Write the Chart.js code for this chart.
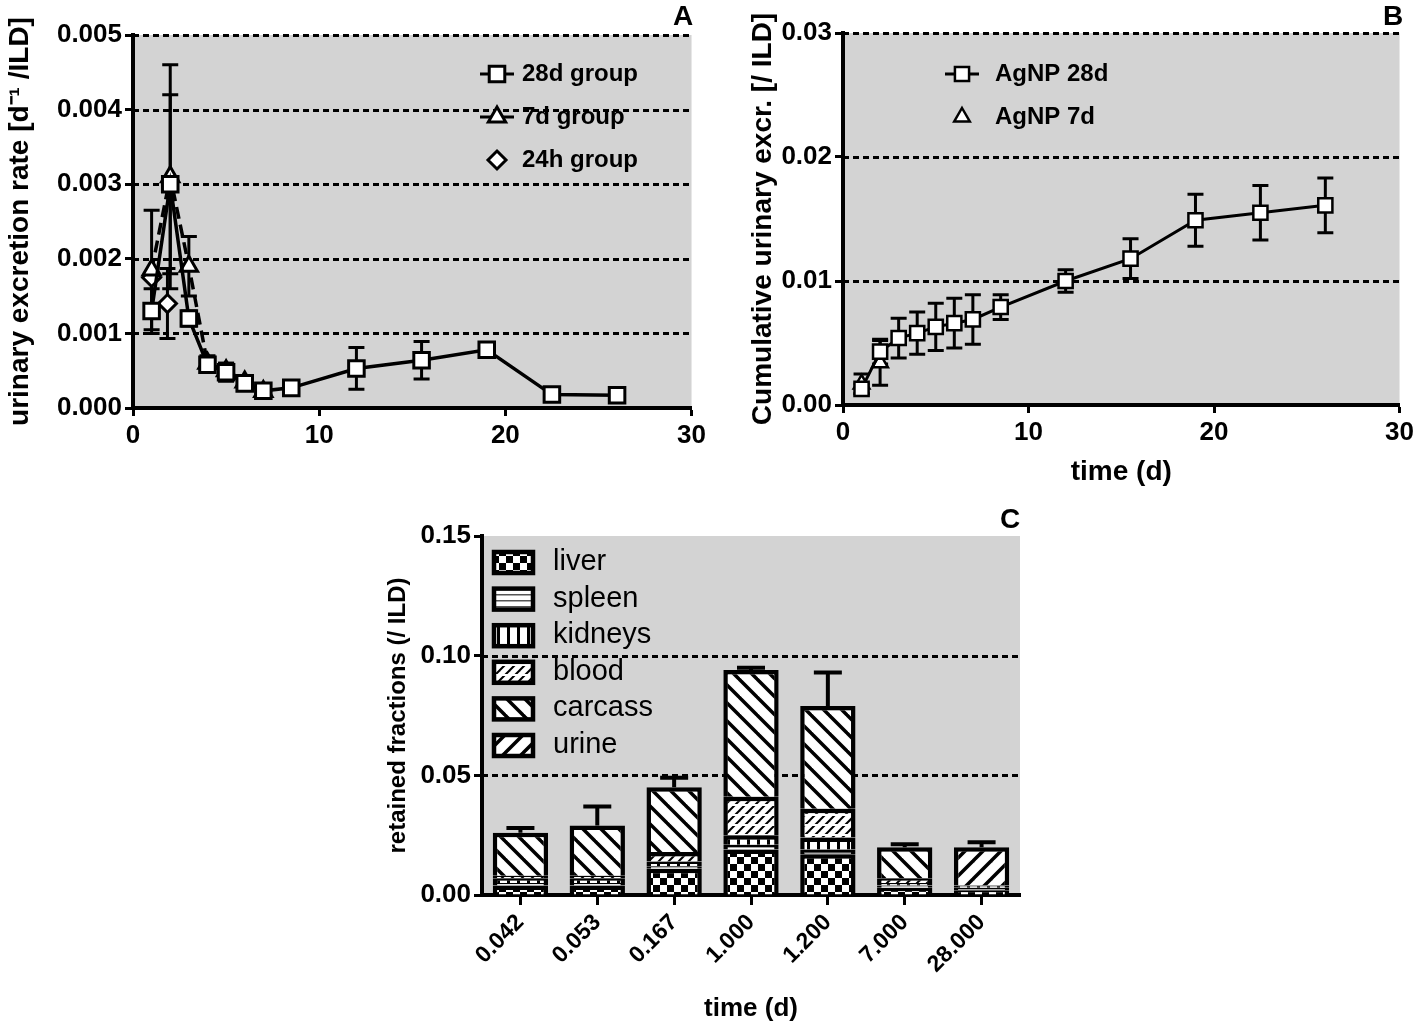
<!DOCTYPE html>
<html>
<head>
<meta charset="utf-8">
<script src="https://cdn.jsdelivr.net/npm/chart.js@4.4.1/dist/chart.umd.min.js"></script>
<style>
  html, body { margin: 0; padding: 0; background: #fff; overflow: hidden; }
  .panel { position: absolute; }
</style>
</head>
<body>
<div class="panel" style="left:0;top:0"><canvas id="chartA" width="710" height="445"></canvas></div>
<div class="panel" style="left:710px;top:0"><canvas id="chartB" width="708" height="500"></canvas></div>
<div class="panel" style="left:380px;top:500px"><canvas id="chartC" width="660" height="524"></canvas></div>
<script>
// ---- panel A: urinary excretion rate
var daysA28 = [1, 2, 3, 4, 5, 6, 7, 8.5, 12, 15.5, 19, 22.5, 26];
var rateA28 = [0.0013, 0.0030, 0.0012, 0.00058, 0.00048, 0.00033, 0.00023, 0.00027, 0.00053, 0.00064, 0.00078, 0.00018, 0.00017];
var errA28  = [0.0003, 0.0012, 0.0001, 0.0001, 0.00012, 0.00005, 0.00004, 0.00003, 0.00028, 0.00025, 0.00008, 0.00003, 0.00003];
var daysA7  = [1, 2, 3, 4, 5, 6, 7];
var rateA7  = [0.00185, 0.0031, 0.0019, 0.0006, 0.0005, 0.00035, 0.00022];
var errA7   = [0.0008, 0.0015, 0.0004, 0.0001, 0.0001, 0.00005, 0.00004];
var daysA24 = [1, 1.85];
var rateA24 = [0.00175, 0.0014];
var errA24  = [0, 0.00047];

// ---- panel B: cumulative urinary excretion
var daysB28 = [1, 2, 3, 4, 5, 6, 7, 8.5, 12, 15.5, 19, 22.5, 26];
var cumB28  = [0.0013, 0.0043, 0.0054, 0.0058, 0.0063, 0.0066, 0.0069, 0.0079, 0.0100, 0.0118, 0.0149, 0.0155, 0.0161];
var errB28  = [0.0004, 0.001, 0.0016, 0.0017, 0.0019, 0.002, 0.002, 0.001, 0.0009, 0.0016, 0.0021, 0.0022, 0.0022];
var daysB7  = [1, 2];
var cumB7   = [0.0017, 0.0034];
var errB7   = [0.0008, 0.0018];

// ---- panel C: retained fractions
var timeC    = ['0.042', '0.053', '0.167', '1.000', '1.200', '7.000', '28.000'];
var liverC   = [0.004, 0.004, 0.011, 0.019, 0.017, 0.003, 0.002];
var spleenC  = [0.001, 0.001, 0.001, 0.002, 0.002, 0.001, 0.001];
var kidneysC = [0.002, 0.002, 0.002, 0.004, 0.005, 0.001, 0.001];
var bloodC   = [0.001, 0.001, 0.004, 0.016, 0.012, 0.002, 0];
var carcassC = [0.018, 0.021, 0.027, 0.053, 0.043, 0.013, 0];
var urineC   = [0, 0, 0, 0, 0, 0, 0.016];
var errC     = [0.002, 0.008, 0.004, 0.001, 0.014, 0.0012, 0.002];

Chart.defaults.font.family = "'Liberation Sans', Arial, sans-serif";
Chart.defaults.color = '#000';

var PLOT_BG = '#d3d3d3';

function xy(xs, ys) {
  return xs.map(function (x, i) { return { x: x, y: ys[i] }; });
}

// fill patterns for the organ bars
function tile(size, draw) {
  var c = document.createElement('canvas');
  c.width = size; c.height = size;
  var g = c.getContext('2d');
  g.fillStyle = '#fff';
  g.fillRect(0, 0, size, size);
  g.fillStyle = '#000';
  g.strokeStyle = '#000';
  draw(g, size);
  return g.createPattern(c, 'repeat');
}
function hatch(size, lw, dir) {
  return tile(size, function (g, s) {
    g.lineWidth = lw;
    [-s, 0, s].forEach(function (off) {
      g.beginPath();
      if (dir > 0) { g.moveTo(off - 1, -1); g.lineTo(off + s + 1, s + 1); }
      else { g.moveTo(off - 1, s + 1); g.lineTo(off + s + 1, -1); }
      g.stroke();
    });
  });
}
var patLiver = tile(14, function (g, s) { g.fillRect(0, 0, s / 2, s / 2); g.fillRect(s / 2, s / 2, s / 2, s / 2); });
var patSpleen = tile(6, function (g, s) { g.fillStyle = '#555'; g.fillRect(0, s - 2, s, 1.5); });
var patKidneys = tile(10, function (g, s) { g.fillRect(s - 3, 0, 3, s); });
var patBlood = tile(10, function (g, s) {
  g.lineWidth = 2;
  [-s, 0, s].forEach(function (off) {
    g.beginPath(); g.moveTo(off - 1, s + 1); g.lineTo(off + s + 1, -1); g.stroke();
  });
  g.fillStyle = '#fff';
  g.fillRect(0, s / 2 - 1, s, 2);
});
var patCarcass = hatch(18, 3.5, 1);
var patUrine = hatch(18, 3.5, -1);

function drawMarker(ctx, style, x, y, r, lw) {
  ctx.save();
  ctx.fillStyle = '#fff';
  ctx.strokeStyle = '#000';
  ctx.lineWidth = lw;
  ctx.setLineDash([]);
  ctx.beginPath();
  if (style === 'rect') {
    var s = r * Math.SQRT1_2;
    ctx.rect(x - s, y - s, 2 * s, 2 * s);
  } else if (style === 'triangle') {
    ctx.moveTo(x, y - r);
    ctx.lineTo(x + r * 0.866, y + r * 0.5);
    ctx.lineTo(x - r * 0.866, y + r * 0.5);
    ctx.closePath();
  } else {
    ctx.moveTo(x, y - r); ctx.lineTo(x + r, y); ctx.lineTo(x, y + r); ctx.lineTo(x - r, y);
    ctx.closePath();
  }
  ctx.fill();
  ctx.stroke();
  ctx.restore();
}

var panelDecor = {
  id: 'panelDecor',
  beforeDraw: function (chart) {
    var a = chart.chartArea, ctx = chart.ctx;
    ctx.save();
    ctx.fillStyle = PLOT_BG;
    ctx.fillRect(a.left, a.top, a.right - a.left, a.bottom - a.top);
    ctx.restore();
  },
  beforeDatasetsDraw: function (chart, args, o) {
    var a = chart.chartArea, ctx = chart.ctx, yS = chart.scales.y;
    ctx.save();
    ctx.strokeStyle = '#000';
    ctx.lineWidth = 3;
    ctx.setLineDash([6, 4]);
    (o.gridLines || []).forEach(function (v) {
      var y = Math.round(yS.getPixelForValue(v)) + 0.5;
      ctx.beginPath(); ctx.moveTo(a.left, y); ctx.lineTo(a.right, y); ctx.stroke();
    });
    ctx.setLineDash([]);
    // error bars for the scatter panels
    if (o.pointErrors) {
      ctx.lineWidth = 3;
      chart.data.datasets.forEach(function (ds, di) {
        if (!ds.errors) return;
        var meta = chart.getDatasetMeta(di);
        ds.data.forEach(function (p, i) {
          var e = ds.errors[i];
          if (!e) return;
          var x = meta.data[i].x;
          var y1 = yS.getPixelForValue(p.y + e), y2 = yS.getPixelForValue(p.y - e);
          ctx.beginPath();
          ctx.moveTo(x, y1); ctx.lineTo(x, y2);
          ctx.moveTo(x - 8, y1); ctx.lineTo(x + 8, y1);
          ctx.moveTo(x - 8, y2); ctx.lineTo(x + 8, y2);
          ctx.stroke();
        });
      });
    }
    ctx.restore();
  },
  afterDatasetsDraw: function (chart, args, o) {
    if (!o.barErrors) return;
    var ctx = chart.ctx, yS = chart.scales.y, meta = chart.getDatasetMeta(0);
    ctx.save();
    ctx.strokeStyle = '#000';
    ctx.lineWidth = 4;
    o.barErrors.forEach(function (e, i) {
      var total = 0;
      chart.data.datasets.forEach(function (ds) { total += ds.data[i] || 0; });
      var x = meta.data[i].x;
      var y0 = yS.getPixelForValue(total), y1 = yS.getPixelForValue(total + e);
      ctx.beginPath();
      ctx.moveTo(x, y0); ctx.lineTo(x, y1);
      ctx.moveTo(x - 14, y1); ctx.lineTo(x + 14, y1);
      ctx.stroke();
    });
    ctx.restore();
  },
  afterDraw: function (chart, args, o) {
    var ctx = chart.ctx;
    var lg = o.legend;
    if (lg) {
      ctx.save();
      ctx.font = lg.font;
      ctx.textBaseline = 'middle';
      ctx.fillStyle = '#000';
      chart.data.datasets.forEach(function (ds, i) {
        var y = lg.y + i * lg.dy;
        if (lg.box) {
          ctx.fillStyle = ds.backgroundColor;
          ctx.fillRect(lg.symbolX, y - 10, 39, 21);
          ctx.strokeStyle = '#000';
          ctx.lineWidth = 4.5;
          ctx.strokeRect(lg.symbolX, y - 10, 39, 21);
        } else {
          if (ds.showLine !== false) {
            ctx.strokeStyle = '#000';
            ctx.lineWidth = 3;
            ctx.beginPath();
            ctx.moveTo(lg.symbolX - 17, y); ctx.lineTo(lg.symbolX + 17, y);
            ctx.stroke();
          }
          drawMarker(ctx, ds.pointStyle, lg.symbolX, y, ds.pointRadius, ds.pointBorderWidth);
        }
        ctx.fillStyle = '#000';
        ctx.fillText(ds.label, lg.textX, y);
      });
      ctx.restore();
    }
    if (o.letter) {
      ctx.save();
      ctx.font = 'bold 28px "Liberation Sans", Arial, sans-serif';
      ctx.textAlign = 'center';
      ctx.textBaseline = 'middle';
      ctx.fillStyle = '#000';
      ctx.fillText(o.letter.text, o.letter.x, o.letter.y);
      ctx.restore();
    }
  }
};
Chart.register(panelDecor);

function tickGrid(len) {
  return { drawOnChartArea: false, drawTicks: true, tickLength: len, tickWidth: 3, tickColor: '#000' };
}
var axisBorder = { color: '#000', width: 4 };
var tickFont = { size: 26, weight: 'bold' };

// ---------- A ----------
new Chart(document.getElementById('chartA'), {
  type: 'scatter',
  data: {
    datasets: [
      { label: '28d group', data: xy(daysA28, rateA28), errors: errA28, showLine: true,
        borderColor: '#000', borderWidth: 3.5, pointStyle: 'rect', pointRadius: 11,
        pointBackgroundColor: '#fff', pointBorderColor: '#000', pointBorderWidth: 3 },
      { label: '7d group', data: xy(daysA7, rateA7), errors: errA7, showLine: true,
        borderColor: '#000', borderWidth: 3.5, borderDash: [12, 6], pointStyle: 'triangle', pointRadius: 10,
        pointBackgroundColor: '#fff', pointBorderColor: '#000', pointBorderWidth: 3 },
      { label: '24h group', data: xy(daysA24, rateA24), errors: errA24, showLine: false,
        borderColor: '#000', pointStyle: 'rectRot', pointRadius: 9,
        pointBackgroundColor: '#fff', pointBorderColor: '#000', pointBorderWidth: 3 }
    ]
  },
  options: {
    responsive: false,
    animation: false,
    layout: { padding: { top: 35, right: 13, left: 0, bottom: 0 } },
    plugins: {
      legend: { display: false },
      tooltip: { enabled: false },
      panelDecor: {
        gridLines: [0.001, 0.002, 0.003, 0.004, 0.005],
        pointErrors: true,
        legend: { symbolX: 497, textX: 522, y: 74, dy: 43, font: 'bold 24px "Liberation Sans", Arial, sans-serif' },
        letter: { text: 'A', x: 683, y: 17 }
      }
    },
    scales: {
      x: {
        type: 'linear', min: 0, max: 30,
        ticks: { stepSize: 10, font: tickFont, padding: 4 },
        grid: tickGrid(8), border: axisBorder,
        afterFit: function (s) { s.height = 37; }
      },
      y: {
        min: 0, max: 0.005,
        ticks: { stepSize: 0.001, font: tickFont, padding: 3, callback: function (v) { return v.toFixed(3); } },
        grid: tickGrid(8), border: axisBorder,
        title: { display: true, text: 'urinary excretion rate [d\u207B\u00B9 /ILD]', font: { size: 28, weight: 'bold' }, padding: { top: 3, bottom: 4 } },
        afterFit: function (s) { s.width = 133; }
      }
    }
  }
});

// ---------- B ----------
new Chart(document.getElementById('chartB'), {
  type: 'scatter',
  data: {
    datasets: [
      { label: 'AgNP 28d', data: xy(daysB28, cumB28), errors: errB28, showLine: true,
        borderColor: '#000', borderWidth: 3, pointStyle: 'rect', pointRadius: 10,
        pointBackgroundColor: '#fff', pointBorderColor: '#000', pointBorderWidth: 2.5 },
      { label: 'AgNP 7d', data: xy(daysB7, cumB7), errors: errB7, showLine: false,
        borderColor: '#000', pointStyle: 'triangle', pointRadius: 9,
        pointBackgroundColor: '#fff', pointBorderColor: '#000', pointBorderWidth: 2.5 }
    ]
  },
  options: {
    responsive: false,
    animation: false,
    layout: { padding: { top: 33, right: 14, left: 33, bottom: 7 } },
    plugins: {
      legend: { display: false },
      tooltip: { enabled: false },
      panelDecor: {
        gridLines: [0.01, 0.02, 0.03],
        pointErrors: true,
        legend: { symbolX: 252, textX: 285, y: 74, dy: 43, font: 'bold 24px "Liberation Sans", Arial, sans-serif' },
        letter: { text: 'B', x: 683, y: 17 }
      }
    },
    scales: {
      x: {
        type: 'linear', min: 0, max: 30,
        ticks: { stepSize: 10, font: tickFont, padding: 4 },
        grid: tickGrid(8), border: axisBorder,
        title: { display: true, text: 'time (d)', font: { size: 28, weight: 'bold' }, padding: { top: 0, bottom: 4 } },
        afterFit: function (s) { s.height = 88; }
      },
      y: {
        min: 0, max: 0.03,
        ticks: { stepSize: 0.01, font: tickFont, padding: 3, callback: function (v) { return v.toFixed(2); } },
        grid: tickGrid(8), border: axisBorder,
        title: { display: true, text: 'Cumulative urinary excr. [/ ILD]', font: { size: 28, weight: 'bold' }, padding: { top: 3, bottom: 4 } },
        afterFit: function (s) { s.width = 100; }
      }
    }
  }
});

// ---------- C ----------
function barSet(label, values, pattern) {
  return { label: label, data: values, backgroundColor: pattern, borderColor: '#000', borderWidth: 4.5,
           barPercentage: 0.72, categoryPercentage: 1.0 };
}
new Chart(document.getElementById('chartC'), {
  type: 'bar',
  data: {
    labels: timeC,
    datasets: [
      barSet('liver', liverC, patLiver),
      barSet('spleen', spleenC, patSpleen),
      barSet('kidneys', kidneysC, patKidneys),
      barSet('blood', bloodC, patBlood),
      barSet('carcass', carcassC, patCarcass),
      barSet('urine', urineC, patUrine)
    ]
  },
  options: {
    responsive: false,
    animation: false,
    layout: { padding: { top: 36, right: 20, left: 0, bottom: 0 } },
    plugins: {
      legend: { display: false },
      tooltip: { enabled: false },
      panelDecor: {
        gridLines: [0.05, 0.10],
        barErrors: errC,
        legend: { box: true, symbolX: 114, textX: 173, y: 62, dy: 36.6, font: '29px "Liberation Sans", Arial, sans-serif' },
        letter: { text: 'C', x: 630, y: 20 }
      }
    },
    scales: {
      x: {
        stacked: true,
        ticks: { font: { size: 23, weight: 'bold' }, minRotation: 45, maxRotation: 45, padding: 4 },
        grid: { offset: false, drawOnChartArea: false, drawTicks: true, tickLength: 10, tickWidth: 3, tickColor: '#000' },
        border: axisBorder,
        title: { display: true, text: 'time (d)', font: { size: 26, weight: 'bold' }, padding: { top: 0, bottom: 0 } },
        afterFit: function (s) { s.height = 129; }
      },
      y: {
        stacked: true, min: 0, max: 0.15,
        ticks: { stepSize: 0.05, font: tickFont, padding: 3, callback: function (v) { return v.toFixed(2); } },
        grid: tickGrid(8), border: axisBorder,
        title: { display: true, text: 'retained fractions (/ ILD)', font: { size: 24, weight: 'bold' }, padding: { top: 4, bottom: 4 } },
        afterFit: function (s) { s.width = 102; }
      }
    }
  }
});
</script>
</body>
</html>
